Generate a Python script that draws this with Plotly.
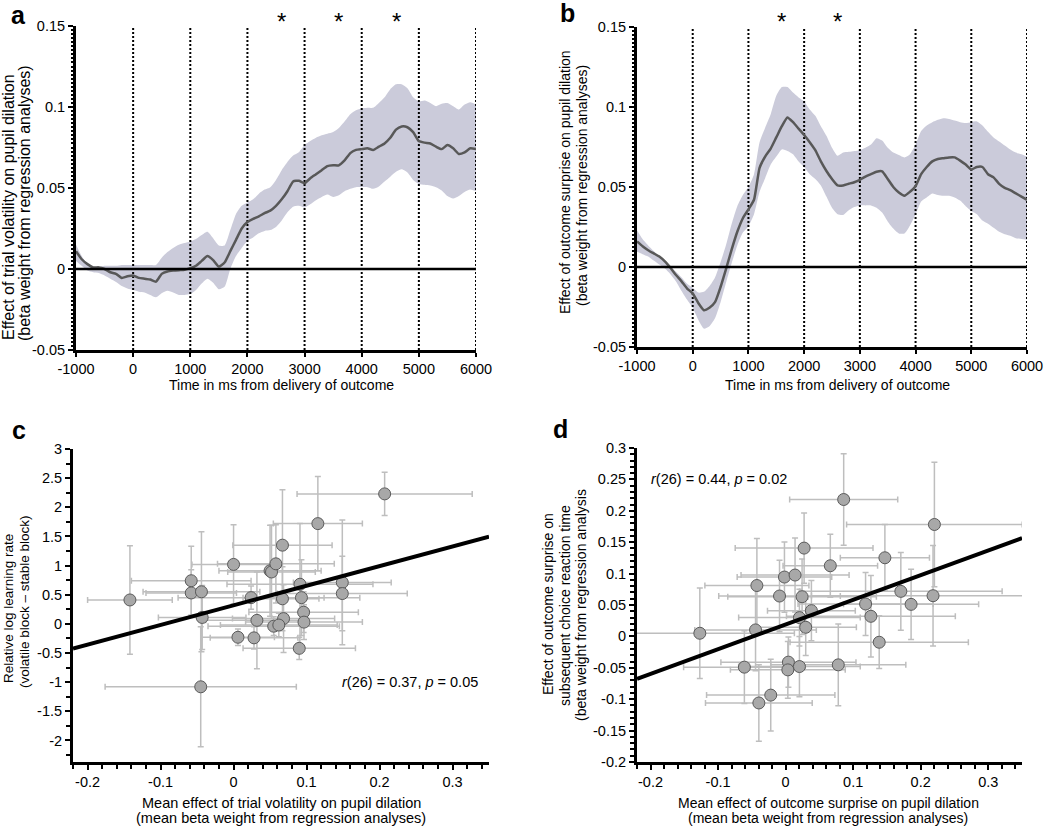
import plotly.graph_objects as go

# ---------------- data ----------------
time_ms = list(range(-1000, 6001, 100))

vol_mean = [0.011, 0.006, 0.003, 0.001, 0.001, 0.000, -0.002, -0.003, -0.0055, -0.0045,
            -0.004, -0.0055, -0.006, -0.0065, -0.0078, -0.003, -0.0015, -0.001, -0.0007, -0.0005,
            0.0005, 0.002, 0.005, 0.008, 0.0055, 0.0015, 0.004, 0.011, 0.018, 0.025,
            0.029, 0.031, 0.0325, 0.0345, 0.036, 0.039, 0.043, 0.048, 0.054, 0.0545,
            0.053, 0.056, 0.0585, 0.061, 0.0635, 0.064, 0.064, 0.067, 0.0715, 0.0735,
            0.074, 0.0745, 0.0735, 0.0755, 0.0775, 0.081, 0.086, 0.088, 0.0875, 0.0845,
            0.079, 0.078, 0.0775, 0.0755, 0.074, 0.0765, 0.0745, 0.071, 0.072, 0.0745,
            0.074]
vol_upper = [0.015, 0.008, 0.003, 0.0015, 0.0015, 0.002, 0.002, 0.002, 0.0025, 0.0025,
             0.0025, 0.0025, 0.0025, 0.0025, 0.0025, 0.007, 0.0105, 0.013, 0.015, 0.016,
             0.017, 0.0185, 0.021, 0.023, 0.019, 0.0145, 0.0145, 0.024, 0.034, 0.039,
             0.041, 0.043, 0.0465, 0.049, 0.0505, 0.055, 0.061, 0.066, 0.070, 0.072,
             0.0765, 0.079, 0.081, 0.0825, 0.0835, 0.0845, 0.087, 0.091, 0.0955, 0.098,
             0.099, 0.0995, 0.0995, 0.1025, 0.106, 0.111, 0.114, 0.114, 0.1115, 0.106,
             0.1035, 0.104, 0.1025, 0.1005, 0.102, 0.1025, 0.1005, 0.0985, 0.1015, 0.103,
             0.1015]
vol_lower = [0.005, 0.002, -0.001, -0.002, -0.0025, -0.004, -0.006, -0.008, -0.0105, -0.012,
             -0.013, -0.014, -0.0145, -0.016, -0.0175, -0.015, -0.0135, -0.0145, -0.016, -0.016,
             -0.0155, -0.013, -0.009, -0.006, -0.0085, -0.0125, -0.011, 0.000, 0.008, 0.013,
             0.0175, 0.0195, 0.022, 0.0235, 0.024, 0.026, 0.030, 0.035, 0.0385, 0.039,
             0.038, 0.040, 0.0425, 0.0445, 0.046, 0.0445, 0.0455, 0.048, 0.0495, 0.0505,
             0.0505, 0.0505, 0.0495, 0.051, 0.054, 0.057, 0.060, 0.0615, 0.0595, 0.055,
             0.0525, 0.052, 0.0515, 0.0505, 0.0485, 0.045, 0.0435, 0.045, 0.0475, 0.049,
             0.048]

sur_mean = [0.016, 0.013, 0.0105, 0.0085, 0.0065, 0.0035, -0.0005, -0.005, -0.009, -0.0135,
            -0.0165, -0.0225, -0.027, -0.0255, -0.022, -0.0125, -0.001, 0.011, 0.022, 0.0305,
            0.036, 0.042, 0.062, 0.069, 0.074, 0.081, 0.088, 0.0935, 0.0905, 0.0865,
            0.0825, 0.078, 0.073, 0.066, 0.060, 0.055, 0.051, 0.051, 0.052, 0.053,
            0.0545, 0.0565, 0.058, 0.0595, 0.0598, 0.055, 0.050, 0.0465, 0.0445, 0.047,
            0.0505, 0.058, 0.0625, 0.066, 0.0675, 0.068, 0.0685, 0.0685, 0.0665, 0.064,
            0.061, 0.0625, 0.0625, 0.058, 0.056, 0.052, 0.0495, 0.048, 0.046, 0.044,
            0.042]
sur_upper = [0.023, 0.0175, 0.0135, 0.010, 0.0065, 0.0035, 0.0005, -0.003, -0.0065, -0.0105,
             -0.013, -0.016, -0.0155, -0.012, -0.0065, 0.003, 0.014, 0.027, 0.038, 0.045,
             0.050, 0.058, 0.078, 0.087, 0.0955, 0.107, 0.1125, 0.1125, 0.109, 0.106,
             0.1035, 0.0985, 0.0945, 0.088, 0.082, 0.0745, 0.0695, 0.0715, 0.072, 0.0725,
             0.073, 0.0745, 0.0765, 0.0805, 0.079, 0.0745, 0.0715, 0.070, 0.0685, 0.0705,
             0.0765, 0.085, 0.0885, 0.0905, 0.092, 0.093, 0.0925, 0.0915, 0.0905, 0.090,
             0.0905, 0.091, 0.0885, 0.0845, 0.081, 0.0785, 0.076, 0.0735, 0.0715, 0.0705,
             0.069]
sur_lower = [0.0095, 0.008, 0.0065, 0.004, 0.0015, -0.001, -0.0045, -0.009, -0.015, -0.0205,
             -0.0255, -0.033, -0.0385, -0.037, -0.032, -0.022, -0.0095, 0.0025, 0.0135, 0.0215,
             0.0255, 0.033, 0.047, 0.0555, 0.064, 0.069, 0.0735, 0.0725, 0.0705, 0.066,
             0.0625, 0.058, 0.055, 0.051, 0.044, 0.037, 0.033, 0.0325, 0.0355, 0.0375,
             0.0385, 0.0385, 0.0385, 0.037, 0.034, 0.0285, 0.024, 0.021, 0.021, 0.026,
             0.033, 0.041, 0.0435, 0.046, 0.045, 0.0445, 0.0445, 0.0435, 0.0415, 0.038,
             0.035, 0.033, 0.029, 0.027, 0.0245, 0.022, 0.0205, 0.0195, 0.018, 0.0175,
             0.017]

vlines_ms = [0, 1000, 2000, 3000, 4000, 5000, 6000]
sig_vol_ms = [2600, 3600, 4600]
sig_sur_ms = [1600, 2600]

time_ticks = [-1000, 0, 1000, 2000, 3000, 4000, 5000, 6000]
time_ticklabels = ["-1000", "0", "1000", "2000", "3000", "4000", "5000", "6000"]
beta_ticks = [-0.05, 0, 0.05, 0.1, 0.15]
beta_ticklabels = ["-0.05", "0", "0.05", "0.1", "0.15"]

# panel c
vol_x = [-0.142, -0.058, -0.058, -0.044, -0.043, -0.045, 0.000, 0.024, 0.006, 0.028,
         0.032, 0.050, 0.052, 0.058, 0.067, 0.067, 0.0685, 0.055, 0.062, 0.1155,
         0.091, 0.093, 0.096, 0.0965, 0.090, 0.149, 0.149, 0.207]
vol_y = [0.41, 0.74, 0.53, 0.55, 0.11, -1.08, 1.02, 0.45, -0.23, -0.24,
         0.06, 0.91, 0.89, 1.03, 1.35, 0.43, 0.09, -0.04, -0.02, 1.72,
         0.68, 0.45, 0.20, 0.03, -0.42, 0.71, 0.52, 2.23]
vol_xerr = [0.058, 0.082, 0.062, 0.080, 0.060, 0.131, 0.057, 0.100, 0.050, 0.060,
            0.070, 0.070, 0.060, 0.080, 0.068, 0.050, 0.070, 0.090, 0.080, 0.061,
            0.100, 0.080, 0.075, 0.080, 0.077, 0.067, 0.089, 0.120]
vol_yerr = [0.93, 0.59, 0.40, 1.03, 0.55, 1.03, 0.68, 0.20, 0.14, 0.19,
            0.83, 0.78, 0.80, 0.67, 0.95, 0.55, 0.58, 0.16, 0.20, 0.81,
            1.04, 0.65, 0.35, 0.30, 0.19, 1.07, 0.64, 0.37]
fit_c = (0.318, 3.37)   # intercept, slope

# panel d
sur_x = [-0.127, -0.0445, -0.0425, -0.061, -0.0396, -0.022, -0.009, -0.0017, 0.014, 0.0244,
         0.0274, 0.0205, 0.0382, 0.0298, 0.0042, 0.0033, 0.0205, 0.078, 0.0662, 0.086,
         0.1184, 0.1263, 0.1386, 0.147, 0.1706, 0.1858, 0.2183, 0.2203]
sur_y = [0.005, 0.0103, 0.081, -0.049, -0.106, -0.0935, 0.0643, 0.0945, 0.0977, 0.0632,
         0.1406, 0.0299, 0.041, 0.0145, -0.041, -0.0533, -0.048, -0.0453, 0.1125, 0.218,
         0.0516, 0.032, -0.0093, 0.1252, 0.0717, 0.051, 0.0648, 0.1782]
sur_xerr = [0.14, 0.09, 0.077, 0.09, 0.079, 0.095, 0.09, 0.07, 0.08, 0.11,
            0.102, 0.09, 0.065, 0.075, 0.10, 0.085, 0.09, 0.10, 0.07, 0.08,
            0.10, 0.125, 0.132, 0.066, 0.15, 0.10, 0.18, 0.13]
sur_yerr = [0.072, 0.065, 0.075, 0.058, 0.061, 0.057, 0.057, 0.056, 0.059, 0.06,
            0.056, 0.045, 0.048, 0.045, 0.04, 0.045, 0.048, 0.065, 0.05, 0.073,
            0.05, 0.065, 0.042, 0.053, 0.062, 0.056, 0.08, 0.099]
fit_d = (0.019, 0.393)

scatter_xticks = [-0.2, -0.1, 0, 0.1, 0.2, 0.3]
scatter_xticklabels = ["-0.2", "-0.1", "0", "0.1", "0.2", "0.3"]
c_yticks = [-2, -1.5, -1, -0.5, 0, 0.5, 1, 1.5, 2, 2.5, 3]
c_yticklabels = ["-2", "-1.5", "-1", "-0.5", "0", "0.5", "1", "1.5", "2", "2.5", "3"]
d_yticks = [-0.2, -0.15, -0.1, -0.05, 0, 0.05, 0.1, 0.15, 0.2, 0.25, 0.3]
d_yticklabels = ["-0.2", "-0.15", "-0.1", "-0.05", "0", "0.05", "0.1", "0.15", "0.2", "0.25", "0.3"]

# ---------------- styling ----------------
FONT = "Liberation Sans, Arial, sans-serif"
BAND = "rgb(203,203,218)"
MEANC = "rgb(88,88,88)"
W, H = 1050, 826
TICKSIZE = 14.5

fig = go.Figure()


def add_timecourse(xa, ya, mean, upper, lower):
    fig.add_trace(go.Scatter(x=time_ms, y=lower, mode="lines", line=dict(width=0, shape="spline", smoothing=0.6),
                             xaxis=xa, yaxis=ya, showlegend=False, hoverinfo="skip"))
    fig.add_trace(go.Scatter(x=time_ms, y=upper, mode="lines", line=dict(width=0, shape="spline", smoothing=0.6),
                             fill="tonexty", fillcolor=BAND, xaxis=xa, yaxis=ya, showlegend=False, hoverinfo="skip"))
    vx, vy = [], []
    for t in vlines_ms:
        vx += [t, t, None]
        vy += [beta_ticks[0], beta_ticks[-1], None]
    fig.add_trace(go.Scatter(x=vx, y=vy, mode="lines", line=dict(color="black", width=2, dash="2px,2px"),
                             xaxis=xa, yaxis=ya, showlegend=False, hoverinfo="skip", cliponaxis=False))
    fig.add_trace(go.Scatter(x=time_ms, y=mean, mode="lines", line=dict(color=MEANC, width=2.5, shape="spline", smoothing=0.5),
                             xaxis=xa, yaxis=ya, showlegend=False))


add_timecourse("x", "y", vol_mean, vol_upper, vol_lower)
add_timecourse("x2", "y2", sur_mean, sur_upper, sur_lower)


def add_scatter(xa, ya, xs, ys, xe, ye, fit, xr):
    fig.add_trace(go.Scatter(x=xs, y=ys, mode="markers",
                             marker=dict(size=12, color="rgb(168,168,168)", line=dict(color="rgb(90,90,90)", width=1)),
                             error_x=dict(type="data", array=xe, color="rgb(190,190,190)", thickness=1.5, width=3),
                             error_y=dict(type="data", array=ye, color="rgb(190,190,190)", thickness=1.5, width=3),
                             xaxis=xa, yaxis=ya, showlegend=False))
    fx = [xr[0], xr[1]]
    fy = [fit[0] + fit[1] * v for v in fx]
    fig.add_trace(go.Scatter(x=fx, y=fy, mode="lines", line=dict(color="black", width=4),
                             xaxis=xa, yaxis=ya, showlegend=False))


c_xrange = [-0.22, 0.35]
d_xrange = [-0.22, 0.35]
add_scatter("x3", "y3", vol_x, vol_y, vol_xerr, vol_yerr, fit_c, c_xrange)
add_scatter("x4", "y4", sur_x, sur_y, sur_xerr, sur_yerr, fit_d, d_xrange)


def ax(domain, rng, tv, tt, anchor, minor_dtick=None, tick0=0, minor_len=3, ticklen=5):
    d = dict(domain=domain, range=rng, tickmode="array", tickvals=tv, ticktext=tt, anchor=anchor,
             showline=True, linecolor="black", linewidth=3, ticks="outside", ticklen=ticklen, tickwidth=2,
             tickcolor="black", showgrid=False, zeroline=False, automargin=False,
             tickfont=dict(family=FONT, size=TICKSIZE, color="black"), fixedrange=True)
    if minor_dtick:
        d["minor"] = dict(dtick=minor_dtick, tick0=tick0, ticks="outside", ticklen=minor_len, tickwidth=1.5,
                          tickcolor="black", showgrid=False)
    return d


fig.update_layout(
    width=W, height=H, margin=dict(l=0, r=0, t=0, b=0, pad=0, autoexpand=False),
    paper_bgcolor="white", plot_bgcolor="white",
    font=dict(family=FONT, size=14, color="black"),
    xaxis=ax([76 / W, 476 / W], [-1000, 6000], time_ticks, time_ticklabels, "y", ticklen=4),
    yaxis=ax([1 - 350 / H, 1 - 26 / H], [-0.05, 0.15], beta_ticks, beta_ticklabels, "x", 0.0025, 0, 2.5),
    xaxis2=ax([637 / W, 1027 / W], [-1000, 6000], time_ticks, time_ticklabels, "y2", ticklen=4),
    yaxis2=ax([1 - 347 / H, 1 - 27 / H], [-0.05, 0.15], beta_ticks, beta_ticklabels, "x2", 0.0025, 0, 2.5),
    xaxis3=ax([73 / W, 489 / W], c_xrange, scatter_xticks, scatter_xticklabels, "y3", 0.02, 0, 4),
    yaxis3=ax([1 - 762 / H, 1 - 449 / H], [-2.37, 3], c_yticks, c_yticklabels, "x3", 0.25, 0, 4),
    xaxis4=ax([637 / W, 1022 / W], d_xrange, scatter_xticks, scatter_xticklabels, "y4", 0.02, 0, 4),
    yaxis4=ax([1 - 762 / H, 1 - 448 / H], [-0.2, 0.3], d_yticks, d_yticklabels, "x4", 0.01, 0, 4),
)

# zero lines in time-course panels
for xr_, yr_ in [("x domain", "y"), ("x2 domain", "y2")]:
    fig.add_shape(type="line", xref=xr_, yref=yr_, x0=0, x1=1, y0=0, y1=0,
                  line=dict(color="black", width=2.5), layer="above")

ann = []


def A(px, py, text, size=14, angle=0, xanchor="center", yanchor="middle", bold=False):
    ann.append(dict(x=px / W, y=1 - py / H, xref="paper", yref="paper", text=text, showarrow=False,
                    textangle=angle, xanchor=xanchor, yanchor=yanchor, align="center",
                    font=dict(family=FONT, size=size, color="black", weight="bold" if bold else "normal")))


# panel letters
A(18, 15, "a", 25, bold=True)
A(567, 13, "b", 25, bold=True)
A(19, 430, "c", 25, bold=True)
A(560, 429, "d", 25, bold=True)

# y titles (one annotation per line)
A(8, 207, "Effect of trial volatility on pupil dilation", 16, -90)
A(24, 203, "(beta weight from regression analyses)", 16, -90)
A(565, 182, "Effect of outcome surprise on pupil dilation", 14, -90)
A(582, 186, "(beta weight from regression analyses)", 14, -90)
A(8, 609, "Relative log learning rate", 13.5, -90)
A(24, 602, "(volatile block \u2013 stable block)", 13.5, -90)
A(548, 604, "Effect of outcome surprise on", 14, -90)
A(565, 606, "subsequent choice reaction time", 14, -90)
A(581, 605, "(beta weight from regression analysis", 14, -90)

# x titles
A(281, 385, "Time in ms from delivery of outcome", 14)
A(837, 385, "Time in ms from delivery of outcome", 14)
A(281, 803, "Mean effect of trial volatility on pupil dilation", 14.5)
A(281, 818, "(mean beta weight from regression analyses)", 14.5)
A(828, 803, "Mean effect of outcome surprise on pupil dilation", 14)
A(828, 818, "(mean beta weight from regression analyses)", 14)

# stats
A(410, 682, "<i>r</i>(26) = 0.37, <i>p</i> = 0.05", 14.5)
A(649, 479, "<i>r</i>(26) = 0.44, <i>p</i> = 0.02", 14.5, xanchor="left")

# significance asterisks
for t in sig_vol_ms:
    ann.append(dict(x=t, y=1 - 21 / H, xref="x", yref="paper", text="*", showarrow=False,
                    font=dict(family=FONT, size=24, color="black"), yanchor="middle"))
for t in sig_sur_ms:
    ann.append(dict(x=t, y=1 - 21 / H, xref="x2", yref="paper", text="*", showarrow=False,
                    font=dict(family=FONT, size=24, color="black"), yanchor="middle"))

fig.update_layout(annotations=ann)
fig.write_html("out.html", config={"displayModeBar": False},
               post_script="document.body.style.margin='0';")
